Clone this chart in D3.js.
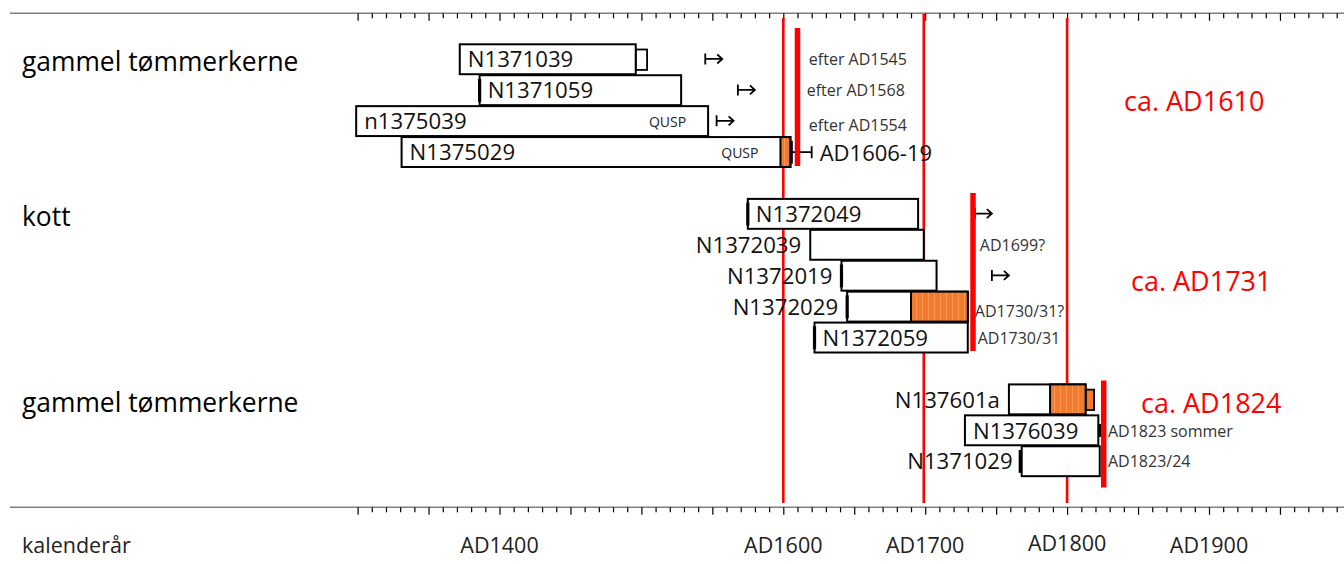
<!DOCTYPE html>
<html><head><meta charset="utf-8">
<script src="https://cdn.jsdelivr.net/npm/d3@7"></script>
<style>body{margin:0;background:#fff;} svg{display:block;font-family:'Open Sans',sans-serif;}</style>
</head><body><svg id="c" width="1344" height="564"></svg>
<script>
// ---- data ----
const groups = ["gammel tømmerkerne", "kott", "gammel tømmerkerne"];
const groupRows = [0, 5, 11];
const samples = ["N1371039","N1371059","n1375039","N1375029","N1372049","N1372039","N1372019","N1372029","N1372059","N137601a","N1376039","N1371029"];
const sampleRows = [0, 1, 2, 3, 5, 6, 7, 8, 9, 11, 12, 13];
const startYears = [1372, 1386, 1299, 1331, 1575, 1619, 1641, 1645, 1622, 1759, 1728, 1768];
const endYears   = [1496, 1528, 1547, 1605, 1695, 1699, 1708, 1730, 1730, 1813, 1822, 1823];
const sapwoodStart = [null, null, null, 1598, null, null, null, 1690, null, 1788, null, null];
const extraEnd     = [1504, null, null, null, null, null, null, null, null, 1819, null, null];
const extraIsSap   = [false, false, false, false, false, false, false, false, false, true, false, false];
const labelInside  = [true, true, true, true, true, false, false, false, true, false, true, false];
const speciesTag   = ["", "", "QUSP", "QUSP", "", "", "", "", "", "", "", ""];
const edgeMarkRows  = [1, 5, 7, 8, 9, 13, 12, 3];
const edgeMarkYears = [1386, 1575, 1641, 1645, 1622, 1767, 1822.8, 1605.6];
const arrowRows  = [0, 1, 2, 5, 7];
const arrowYears = [1545, 1568, 1553, 1735, 1747];
const whiskerRow = 3, whiskerFrom = 1605, whiskerTo = 1620, whiskerLabel = "AD1606-19";
const notes     = ["efter AD1545", "efter AD1568", "efter AD1554", "AD1699?", "AD1730/31?", "AD1730/31", "AD1823 sommer", "AD1823/24"];
const noteRows  = [0, 1, 2, 6, 8, 9, 12, 13];
const noteYears = [1618, 1616.5, 1618, 1738.5, 1735, 1737, 1828.8, 1828.8];
const fellingYears  = [1610, 1733.7, 1825.8];
const fellingLabels = ["ca. AD1610", "ca. AD1731", "ca. AD1824"];
const gridYears = [1600, 1699, 1800];
const tickYears = d3.range(1300, 1991, 10);
const labelYears = [1400, 1600, 1700, 1800, 1900];
const tickLabels = ["AD1400", "AD1600", "AD1700", "AD1800", "AD1900"];
const axisTitle = "kalenderår";

// ---- layout ----
const W = 1344, H = 564;
const svg = d3.select("#c");
const x = d3.scaleLinear().domain([1300, 1600]).range([357.6, 783.3]);
const y = d3.scaleBand().domain(d3.range(14)).range([44, 44 + 14 * 30.92]);
const bw = y.bandwidth();
const cy = r => y(r) + bw / 2;

// pattern for orange (sapwood) segments
const defs = svg.append("defs");
const pat = defs.append("pattern").attr("id", "sap").attr("patternUnits", "userSpaceOnUse")
  .attr("width", 6).attr("height", 10);
pat.append("rect").attr("width", 6).attr("height", 10).attr("fill", "#f47a2c");
pat.append("rect").attr("x", 4).attr("width", 1).attr("height", 10).attr("fill", "#f89858");

// axes lines (top and bottom)
const axisYs = [13.3, 507.3];
axisYs.forEach(ay => {
  svg.append("line").attr("x1", 10).attr("x2", W).attr("y1", ay).attr("y2", ay)
    .attr("stroke", "#7f7f7f").attr("stroke-width", 1.6);
  const g = svg.append("g").attr("transform", `translate(0,${ay})`);
  const ax = d3.axisBottom(x).tickValues(tickYears).tickFormat("").tickSizeOuter(0)
    .tickSize(0);
  g.call(ax);
  g.select(".domain").remove();
  g.selectAll(".tick line")
    .attr("y2", d => d % 50 === 0 ? 7.5 : 5)
    .attr("stroke", "#000").attr("stroke-width", 1.2);
});

// tick labels bottom
svg.append("g").selectAll("text").data(labelYears).join("text")
  .attr("x", d => x(d)).attr("y", (d, i) => i === 3 ? 551 : 553)
  .attr("text-anchor", "middle").attr("font-size", 21.5).attr("fill", "#222")
  .text((d, i) => tickLabels[i]);
svg.append("text").attr("x", 22).attr("y", 553).attr("font-size", 21.5).attr("fill", "#222").text(axisTitle);

// gridlines
svg.append("g").selectAll("line").data(gridYears).join("line")
  .attr("x1", d => x(d)).attr("x2", d => x(d))
  .attr("y1", (d, i) => i === 1 ? 14 : 18).attr("y2", 503)
  .attr("stroke", "#ff0000").attr("stroke-width", 2.6);

// group labels
svg.append("g").selectAll("text").data(groups).join("text")
  .attr("x", 22).attr("y", (d, i) => cy(groupRows[i]) + 2)
  .attr("dominant-baseline", "central").attr("font-size", 26.4).attr("fill", "#000")
  .text(d => d);

// bars
const idx = d3.range(samples.length);
const bars = svg.append("g");
bars.selectAll("rect.extra").data(idx.filter(i => extraEnd[i] != null)).join("rect")
  .attr("class", "extra")
  .attr("x", i => x(endYears[i])).attr("width", i => x(extraEnd[i]) - x(endYears[i]))
  .attr("y", i => y(sampleRows[i]) + 5.5).attr("height", bw - 10.5)
  .attr("fill", i => extraIsSap[i] ? "#f47a2c" : "#fff")
  .attr("stroke", "#000").attr("stroke-width", 1.8);
bars.selectAll("rect.bar").data(idx).join("rect")
  .attr("class", "bar")
  .attr("x", i => x(startYears[i])).attr("width", i => x(endYears[i]) - x(startYears[i]))
  .attr("y", i => y(sampleRows[i]) + 0.3).attr("height", bw - 1)
  .attr("fill", "#fff").attr("stroke", "#000").attr("stroke-width", 2);
bars.selectAll("rect.sap").data(idx.filter(i => sapwoodStart[i] != null)).join("rect")
  .attr("class", "sap")
  .attr("x", i => x(sapwoodStart[i])).attr("width", i => x(endYears[i]) - x(sapwoodStart[i]))
  .attr("y", i => y(sampleRows[i]) + 0.3).attr("height", bw - 1)
  .attr("fill", "url(#sap)").attr("stroke", "#000").attr("stroke-width", 2);

// edge marks (bark / waney edge)
bars.selectAll("line.edge").data(edgeMarkRows).join("line")
  .attr("class", "edge")
  .attr("x1", (r, i) => x(edgeMarkYears[i])).attr("x2", (r, i) => x(edgeMarkYears[i]))
  .attr("y1", (r, i) => y(r) + (r === 12 ? 9 : 4)).attr("y2", (r, i) => y(r) + bw - (r === 12 ? 9 : 4))
  .attr("stroke", "#000").attr("stroke-width", 3.2);

// sample labels
svg.append("g").selectAll("text").data(idx).join("text")
  .attr("x", i => labelInside[i] ? x(startYears[i]) + 8 : x(startYears[i]) - 9)
  .attr("y", i => cy(sampleRows[i]) - 0.5)
  .attr("text-anchor", i => labelInside[i] ? "start" : "end")
  .attr("dominant-baseline", "central").attr("font-size", 22.2).attr("fill", "#111")
  .text(i => samples[i]);

// species tags
svg.append("g").selectAll("text").data(idx.filter(i => speciesTag[i])).join("text")
  .attr("x", i => x(sapwoodStart[i] != null ? sapwoodStart[i] : endYears[i]) - 22)
  .attr("y", i => cy(sampleRows[i]) + 0.5)
  .attr("text-anchor", "end").attr("dominant-baseline", "central")
  .attr("font-size", 14).attr("fill", "#222").text(i => speciesTag[i]);

// "after" arrows
const ar = svg.append("g").attr("stroke", "#000").attr("stroke-width", 1.8).attr("fill", "none");
arrowRows.forEach((r, i) => {
  const x0 = x(arrowYears[i]), yy = cy(r) - 0.5;
  ar.append("path").attr("d", `M${x0},${yy - 5.5}V${yy + 5.5}M${x0},${yy}H${x0 + 17}M${x0 + 12},${yy - 4.5}L${x0 + 17},${yy}L${x0 + 12},${yy + 4.5}`);
});

// whisker
const wy = cy(whiskerRow);
svg.append("path")
  .attr("d", `M${x(whiskerFrom)},${wy}H${x(whiskerTo)}M${x(whiskerTo)},${wy - 6}V${wy + 6}`)
  .attr("stroke", "#000").attr("stroke-width", 1.8).attr("fill", "none");
svg.append("text").attr("x", x(whiskerTo) + 8).attr("y", wy - 0.5)
  .attr("dominant-baseline", "central").attr("font-size", 22).attr("fill", "#111").text(whiskerLabel);

// notes
svg.append("g").selectAll("text").data(notes).join("text")
  .attr("x", (d, i) => x(noteYears[i]))
  .attr("y", (d, i) => cy(noteRows[i]) + ((noteRows[i] === 2 || noteRows[i] === 8) ? 4 : 0))
  .attr("dominant-baseline", "central").attr("font-size", 16).attr("fill", "#333")
  .text(d => d);

// felling date lines
const fellTop = [28, 193, 380.5], fellBot = [166, 351, 487.5];
svg.append("g").selectAll("line").data(fellingYears).join("line")
  .attr("x1", d => x(d)).attr("x2", d => x(d))
  .attr("y1", (d, i) => fellTop[i]).attr("y2", (d, i) => fellBot[i])
  .attr("stroke", "#ff0000").attr("stroke-width", 5.5);

// felling labels
const fellLabelX = [1124, 1131, 1141], fellLabelY = [100, 280, 402];
svg.append("g").selectAll("text").data(fellingLabels).join("text")
  .attr("x", (d, i) => fellLabelX[i]).attr("y", (d, i) => fellLabelY[i])
  .attr("dominant-baseline", "central").attr("font-size", 27).attr("fill", "#ff0000")
  .text(d => d);
</script></body></html>
